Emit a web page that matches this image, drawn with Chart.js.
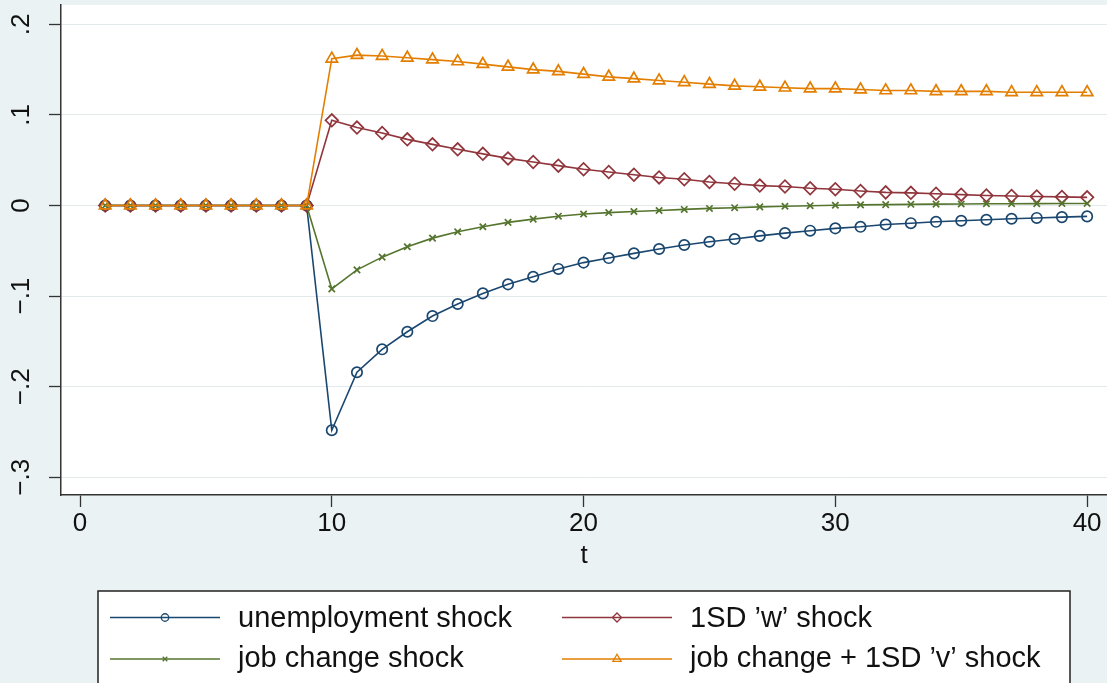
<!DOCTYPE html>
<html>
<head>
<meta charset="utf-8">
<script src="https://cdn.jsdelivr.net/npm/chart.js"></script>
<style>
  html, body { margin: 0; padding: 0; background: #eaf2f3; }
  canvas { display: block; }
</style>
</head>
<body>
<canvas id="irf" width="1107" height="683"></canvas>
<script>
// Impulse responses over periods t = 1..40
const periods = [1, 2, 3, 4, 5, 6, 7, 8, 9, 10, 11, 12, 13, 14, 15, 16, 17, 18, 19, 20,
                 21, 22, 23, 24, 25, 26, 27, 28, 29, 30, 31, 32, 33, 34, 35, 36, 37, 38, 39, 40];

const unemploymentShock = [0, 0, 0, 0, 0, 0, 0, 0, 0,
  -0.248, -0.184, -0.1587, -0.1393, -0.122, -0.1087, -0.097, -0.087, -0.0786, -0.070,
  -0.063, -0.058, -0.0528, -0.048, -0.0436, -0.040, -0.037, -0.0335, -0.0305, -0.0278,
  -0.0252, -0.0235, -0.021, -0.0195, -0.018, -0.0168, -0.0157, -0.0146, -0.0137, -0.0128, -0.012];

const wShock = [0, 0, 0, 0, 0, 0, 0, 0, 0,
  0.094, 0.086, 0.080, 0.073, 0.0675, 0.062, 0.057, 0.052, 0.048, 0.044,
  0.040, 0.037, 0.034, 0.031, 0.029, 0.026, 0.024, 0.022, 0.021, 0.019,
  0.018, 0.016, 0.0145, 0.014, 0.013, 0.012, 0.011, 0.0105, 0.010, 0.0095, 0.009];

const jobChangeShock = [0, 0, 0, 0, 0, 0, 0, 0, 0,
  -0.092, -0.071, -0.057, -0.0455, -0.036, -0.029, -0.0234, -0.0186, -0.015, -0.0118,
  -0.0094, -0.0078, -0.0066, -0.0055, -0.0043, -0.0032, -0.0024, -0.0015, -0.0008, -0.0002,
  0.0003, 0.0007, 0.001, 0.0013, 0.0015, 0.0017, 0.0019, 0.002, 0.0021, 0.0022, 0.0023];

const jobChangeVShock = [0, 0, 0, 0, 0, 0, 0, 0, 0,
  0.162, 0.166, 0.165, 0.163, 0.161, 0.159, 0.156, 0.153, 0.150, 0.148,
  0.145, 0.142, 0.140, 0.138, 0.136, 0.134, 0.132, 0.131, 0.130, 0.129,
  0.129, 0.128, 0.127, 0.127, 0.126, 0.126, 0.126, 0.125, 0.125, 0.125, 0.125];

const seriesLabels = ['unemployment shock', '1SD \u2019w\u2019 shock', 'job change shock', 'job change + 1SD \u2019v\u2019 shock'];

const xTickValues = [0, 10, 20, 30, 40];
const xTickLabels = ['0', '10', '20', '30', '40'];
const yTickValues = [-0.3, -0.2, -0.1, 0, 0.1, 0.2];
const yTickLabels = ['\u2212.3', '\u2212.2', '\u2212.1', '0', '.1', '.2'];

const FONT = '"Liberation Sans", Arial, sans-serif';
const INK = '#111111';
const AXIS = '#333333';

function toPoints(values) {
  return periods.map((t, i) => ({ x: t, y: values[i] }));
}

function series(label, values, color, style, radius, order) {
  return {
    label: label,
    data: toPoints(values),
    borderColor: color,
    borderWidth: 1.6,
    tension: 0,
    fill: false,
    pointStyle: style,
    pointRadius: radius,
    pointHoverRadius: radius,
    pointBorderColor: color,
    pointBackgroundColor: 'rgba(0,0,0,0)',
    pointBorderWidth: 1.7,
    order: order
  };
}

// Page-coloured backdrop with a white plot region
const backdrop = {
  id: 'backdrop',
  beforeDraw(chart) {
    const { ctx, chartArea: a } = chart;
    ctx.save();
    ctx.fillStyle = '#eaf2f3';
    ctx.fillRect(0, 0, chart.width, chart.height);
    ctx.fillStyle = '#ffffff';
    ctx.fillRect(a.left, a.top, a.right - a.left, a.bottom - a.top);
    ctx.restore();
  }
};

function keyMarker(ctx, style, r, x, y) {
  ctx.beginPath();
  if (style === 'circle') {
    ctx.arc(x, y, r, 0, Math.PI * 2);
  } else if (style === 'rectRot') {
    ctx.moveTo(x, y - r); ctx.lineTo(x + r, y); ctx.lineTo(x, y + r); ctx.lineTo(x - r, y); ctx.closePath();
  } else if (style === 'crossRot') {
    const d = r * Math.SQRT1_2;
    ctx.moveTo(x - d, y - d); ctx.lineTo(x + d, y + d);
    ctx.moveTo(x - d, y + d); ctx.lineTo(x + d, y - d);
  } else if (style === 'triangle') {
    const h = r * Math.sqrt(3) / 2;
    ctx.moveTo(x, y - r); ctx.lineTo(x + h, y + r / 2); ctx.lineTo(x - h, y + r / 2); ctx.closePath();
  }
  ctx.stroke();
}

// Two-column key in a framed box under the axis
const keyBox = {
  id: 'keyBox',
  afterDraw(chart, args, o) {
    const ctx = chart.ctx;
    ctx.save();
    ctx.fillStyle = '#ffffff';
    ctx.fillRect(o.left, o.top, o.right - o.left, o.bottom - o.top);
    ctx.strokeStyle = '#222222';
    ctx.lineWidth = 1.5;
    ctx.strokeRect(o.left, o.top, o.right - o.left, o.bottom - o.top);
    chart.data.datasets.forEach((ds, i) => {
      const col = i % 2, row = Math.floor(i / 2);
      const x0 = o.colX[col];
      const y = o.rowY[row];
      ctx.strokeStyle = ds.borderColor;
      ctx.lineWidth = 1.4;
      ctx.beginPath();
      ctx.moveTo(x0, y);
      ctx.lineTo(x0 + o.lineLen, y);
      ctx.stroke();
      ctx.lineWidth = 1.3;
      keyMarker(ctx, ds.pointStyle, ds.pointRadius * 0.72, x0 + o.lineLen / 2, y);
      ctx.fillStyle = INK;
      ctx.font = o.fontSize + 'px ' + FONT;
      ctx.textAlign = 'left';
      ctx.textBaseline = 'alphabetic';
      ctx.fillText(ds.label, x0 + o.textGap, o.baseY[row]);
    });
    ctx.restore();
  }
};

new Chart(document.getElementById('irf'), {
  type: 'line',
  data: {
    datasets: [
      series(seriesLabels[0], unemploymentShock, '#1a476f', 'circle', 5.2, 4),
      series(seriesLabels[1], wShock, '#90353b', 'rectRot', 6.3, 3),
      series(seriesLabels[2], jobChangeShock, '#55752f', 'crossRot', 4.5, 2),
      series(seriesLabels[3], jobChangeVShock, '#e37e00', 'triangle', 6.6, 1)
    ]
  },
  options: {
    responsive: false,
    animation: false,
    devicePixelRatio: 1,
    layout: { autoPadding: false, padding: { top: 5, left: 0, right: 0, bottom: 112 } },
    plugins: {
      legend: { display: false },
      tooltip: { enabled: false },
      keyBox: {
        left: 98, right: 1070, top: 591, bottom: 700,
        colX: [110, 562], lineLen: 110, textGap: 128,
        rowY: [617.5, 659], baseY: [627, 667], fontSize: 29
      }
    },
    scales: {
      x: {
        type: 'linear',
        position: 'bottom',
        min: -0.755,
        max: 40.79,
        afterBuildTicks: s => { s.ticks = xTickValues.map(v => ({ value: v })); },
        afterFit: s => { s.height = 76; s.paddingLeft = 0; s.paddingRight = 0; },
        grid: { drawOnChartArea: false, drawTicks: true, tickLength: 12, tickColor: AXIS, tickWidth: 1.3 },
        border: { display: true, color: AXIS, width: 1.5 },
        ticks: {
          autoSkip: false, maxRotation: 0, minRotation: 0, padding: 1.5,
          color: INK, font: { family: FONT, size: 26 },
          callback: (v, i) => xTickLabels[i]
        },
        title: { display: true, text: 't', color: INK, font: { family: FONT, size: 26 }, padding: 0 }
      },
      y: {
        type: 'linear',
        position: 'left',
        min: -0.3195,
        max: 0.2213,
        afterBuildTicks: s => { s.ticks = yTickValues.map(v => ({ value: v })); },
        afterFit: s => { s.width = 61; s.paddingTop = 0; s.paddingBottom = 0; },
        grid: { color: '#e3e9eb', lineWidth: 1, drawTicks: true, tickLength: 12, tickColor: AXIS, tickWidth: 1.3 },
        border: { display: true, color: AXIS, width: 1.5 },
        ticks: {
          autoSkip: false, minRotation: 90, maxRotation: 90, crossAlign: 'center', padding: 8.8,
          color: INK, font: { family: FONT, size: 26 },
          callback: (v, i) => yTickLabels[i]
        }
      }
    }
  },
  plugins: [backdrop, keyBox]
});
</script>
</body>
</html>
